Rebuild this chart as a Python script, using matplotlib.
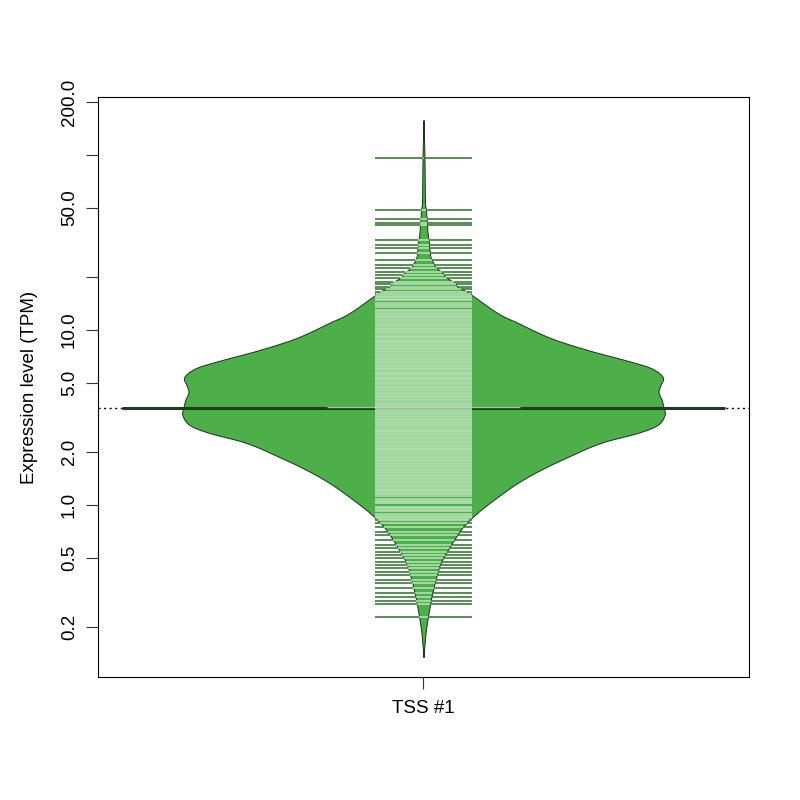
"""
Beanplot d'expression (TPM) pour un TSS : densité en miroir sur échelle log,
une ligne par observation, ligne de moyenne et ligne globale pointillée.
"""

import matplotlib

matplotlib.use("Agg")
import matplotlib.pyplot as plt
import numpy as np

plt.rcParams["font.family"] = ["Liberation Sans", "DejaVu Sans"]

# --- Données --------------------------------------------------------------
categories = ["TSS #1"]

# observations (TPM) : queue haute, bloc central dense, queue basse
tpm_haut = [96.1, 48.5, 43.1, 40.9, 39.8, 32.7, 30.6, 29.4, 27.5, 25.1,
            23.5, 22.6, 21.4, 20.6, 19.8, 18.8, 18.3, 17.6, 17.2, 16.5]
tpm_centre = [16.0, 15.7, 15.4, 15.1, 14.8, 14.2, 13.9, 13.6, 13.0,
              12.8, 12.5, 12.3, 12.0, 11.8, 11.5, 11.3, 10.9, 10.7, 10.5,
              10.3, 10.1, 9.9, 9.7, 9.5, 9.3, 9.1, 8.9, 8.7, 8.55, 8.4, 8.2,
              8.05, 7.9, 7.75, 7.6, 7.45, 7.3, 7.15, 7.0, 6.85, 6.7, 6.6,
              6.45, 6.3, 6.2, 6.05, 5.95, 5.8, 5.7, 5.6, 5.5, 5.42, 5.35, 5.25,
              5.15, 5.05, 4.95, 4.85, 4.75, 4.65, 4.55, 4.47, 4.38, 4.3, 4.2,
              4.12, 4.04, 3.96, 3.88, 3.8, 3.73, 3.65, 3.58, 3.51, 3.44, 3.37,
              3.3, 3.24, 3.17, 3.11, 3.05, 2.99, 2.93, 2.87, 2.81, 2.76, 2.7,
              2.65, 2.6, 2.55, 2.5, 2.45, 2.4, 2.35, 2.3, 2.26, 2.21, 2.17,
              2.13, 2.09, 2.05, 2.01, 1.97, 1.93, 1.89, 1.85, 1.81, 1.78,
              1.74, 1.71, 1.68, 1.64, 1.61, 1.58, 1.55, 1.52, 1.49, 1.46,
              1.43, 1.4, 1.37, 1.35, 1.32, 1.29, 1.27, 1.24, 1.22, 1.2, 1.17,
              1.15, 1.13, 1.08, 1.06, 1.04, 1.02, 0.98, 0.96, 0.94,
              0.92, 0.885, 0.865, 0.85, 0.835, 0.82]
tpm_bas = [0.789, 0.749, 0.701, 0.674, 0.631, 0.591, 0.568, 0.539, 0.518,
           0.498, 0.472, 0.454, 0.436, 0.414, 0.398, 0.373, 0.358, 0.336,
           0.314, 0.298, 0.283, 0.272, 0.229]

# profil de densité du haricot (largeur relative, max = 1)
bean_tpm = [158.5, 96.1, 55.3, 48.5, 35.8, 32.7, 28.7, 26.1, 24.1, 22.9,
            21.2, 20.1, 18.6, 17.6, 16.3, 12.5, 11.0, 9.0, 7.69, 6.74, 6.07,
            5.39, 4.85, 4.42, 3.98, 3.58, 3.27, 2.87, 2.58, 2.26, 1.88,
            1.585, 1.336, 1.11, 0.936, 0.821, 0.720, 0.575, 0.466, 0.373,
            0.298, 0.241, 0.193, 0.158, 0.135]
bean_densite = [0.0, 0.004, 0.006, 0.010, 0.017, 0.021, 0.025, 0.029, 0.041,
                0.050, 0.079, 0.091, 0.129, 0.141, 0.187, 0.307, 0.390,
                0.527, 0.680, 0.834, 0.942, 0.992, 0.983, 0.975, 0.988,
                0.996, 1.0, 0.971, 0.888, 0.734, 0.598, 0.485, 0.390, 0.307,
                0.237, 0.191, 0.154, 0.108, 0.071, 0.050, 0.033, 0.021,
                0.010, 0.004, 0.0]

moyenne_tpm = 3.58

yticks = [0.2, 0.5, 1.0, 2.0, 5.0, 10.0, 20.0, 50.0, 100.0, 200.0]
ytick_labels = ["0.2", "0.5", "1.0", "2.0", "5.0", "10.0", "", "50.0", "", "200.0"]

# --- Style ------------------------------------------------------------------
VERT_HARICOT = "#4DAF4A"
VERT_CLAIR = "#B2DEAF"
VERT_FONCE = "#3B7A39"
VERT_MOYENNE = "#1F3A1E"

LARGEUR_MAX = 0.4   # demi-largeur du haricot
LONG_LIGNE = 0.08   # demi-longueur des lignes d'observation
TAILLE = 13.5


def lisser(ly, w, n=12):
    """Spline de Catmull-Rom pour un contour de haricot sans angles."""
    pts = np.column_stack([ly, w])
    pts = np.vstack([pts[0], pts, pts[-1]])
    out = []
    for i in range(1, len(pts) - 2):
        p0, p1, p2, p3 = pts[i - 1], pts[i], pts[i + 1], pts[i + 2]
        for t in np.linspace(0, 1, n, endpoint=False):
            t2, t3 = t * t, t * t * t
            out.append(0.5 * ((2 * p1) + (-p0 + p2) * t
                              + (2 * p0 - 5 * p1 + 4 * p2 - p3) * t2
                              + (-p0 + 3 * p1 - 3 * p2 + p3) * t3))
    out.append(pts[-2])
    out = np.array(out)
    return out[:, 0], np.clip(out[:, 1], 0, None)


fig = plt.figure(figsize=(8, 8), dpi=100)
ax = fig.add_axes([0.1225, 0.15375, 0.81375, 0.725])

x0 = 1.0
ax.set_xlim(0.46, 1.54)
ax.set_yscale("log")
ax.set_ylim(0.104, 214.5)

# ligne globale pointillée (sous le haricot)
ax.axhline(moyenne_tpm, color="black", lw=1.0, ls=(0, (1.5, 2.5)), zorder=1)

# haricot en miroir
bt = np.array(bean_tpm)
bd = np.array(bean_densite) * LARGEUR_MAX
ly_lisse, w_lisse = lisser(np.log10(bt), bd)
ax.fill_betweenx(10 ** ly_lisse, x0 - w_lisse, x0 + w_lisse,
                 facecolor=VERT_HARICOT, edgecolor="#1a2e1a", lw=0.7, zorder=2)

# ligne de moyenne
ax.plot([x0 - 0.5, x0 + 0.5], [moyenne_tpm, moyenne_tpm],
        color=VERT_MOYENNE, lw=2.2, solid_capstyle="butt", zorder=3)
ax.plot([x0 - 0.16, x0 + 0.16], [moyenne_tpm * 1.012] * 2,
        color="#9CC79A", lw=1.0, solid_capstyle="butt", zorder=3.5)

# lignes d'observation : claires dans le haricot, foncées à l'extérieur
log_bt = ly_lisse[::-1]
larg_bt = w_lisse[::-1]
for v in tpm_haut + tpm_centre + tpm_bas:
    hw = float(np.interp(np.log10(v), log_bt, larg_bt))
    dedans = min(hw, LONG_LIGNE)
    if dedans < LONG_LIGNE:
        for signe in (-1, 1):
            ax.plot([x0 + signe * dedans, x0 + signe * LONG_LIGNE], [v, v],
                    color=VERT_FONCE, lw=1.2, solid_capstyle="butt", zorder=4)
    ax.plot([x0 - dedans, x0 + dedans], [v, v], color=VERT_CLAIR, lw=1.2,
            solid_capstyle="butt", zorder=4)

# axes façon R
ax.set_yticks(yticks)
ax.set_yticklabels(ytick_labels, rotation=90, va="center", fontsize=TAILLE)
ax.yaxis.set_minor_locator(matplotlib.ticker.NullLocator())
ax.set_xticks([x0])
ax.set_xticklabels(categories, fontsize=TAILLE)
ax.tick_params(axis="both", direction="out", length=8.5, width=0.8, color="#333333")
ax.tick_params(axis="y", pad=6)
ax.tick_params(axis="x", pad=8)
ax.set_ylabel("Expression level (TPM)", fontsize=TAILLE)
ax.yaxis.set_label_coords(-0.092, 0.5)
for s in ax.spines.values():
    s.set_linewidth(0.8)

plt.savefig("out.png", dpi=100)
plt.close()
